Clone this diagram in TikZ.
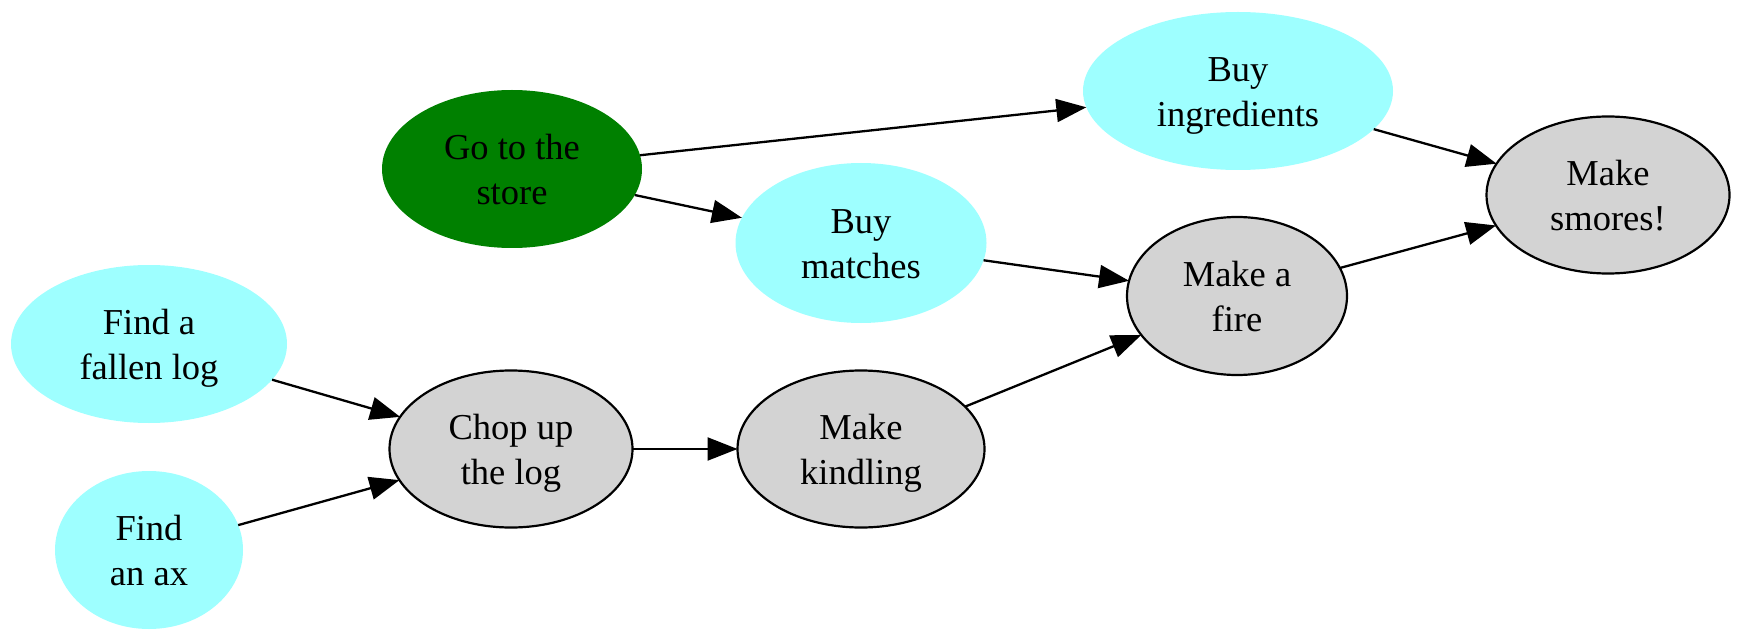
\documentclass[tikz,border=0pt]{standalone}
\usepackage{fontspec}
\setmainfont{Liberation Serif}
\usetikzlibrary{shapes.geometric,arrows.meta}
\definecolor{cyanfill}{RGB}{158,255,255}
\definecolor{grayfill}{RGB}{211,211,211}
\definecolor{greenfill}{RGB}{0,128,0}
\newcommand{\twolines}[2]{\raisebox{-4pt}[\height][\depth]{\begin{tabular}{@{}c@{}}#1\\#2\end{tabular}}}
\begin{document}
\begin{tikzpicture}[x=1pt,y=-1pt,
  base/.style={ellipse,inner sep=0pt,outer sep=0pt,align=center,
    font=\fontsize{36.5}{45}\selectfont},
  cyannode/.style={base,fill=cyanfill},
  greennode/.style={base,fill=greenfill},
  graynode/.style={base,fill=grayfill,draw=black,line width=2.2pt},
  edge/.style={line width=2.3pt,-{Triangle[length=30pt,width=23pt]}}
]
\useasboundingbox (0,0) rectangle (1752,644);
\node[greennode,minimum width=260pt,minimum height=158pt] (store) at (512,169) {\twolines{Go to the}{store}};
\node[cyannode,minimum width=310pt,minimum height=158pt] (ingr) at (1238,91) {\twolines{Buy}{ingredients}};
\node[cyannode,minimum width=251pt,minimum height=160pt] (match) at (861,243) {\twolines{Buy}{matches}};
\node[graynode,minimum width=243pt,minimum height=157pt] (smores) at (1608,195) {\twolines{Make}{smores!}};
\node[graynode,minimum width=220pt,minimum height=158pt] (fire) at (1237,296) {\twolines{Make a}{fire}};
\node[cyannode,minimum width=276pt,minimum height=158pt] (log) at (149,344) {\twolines{Find a}{fallen log}};
\node[graynode,minimum width=243pt,minimum height=157pt] (chop) at (511,449) {\twolines{Chop up}{the log}};
\node[graynode,minimum width=247pt,minimum height=157pt] (kind) at (861,449) {\twolines{Make}{kindling}};
\node[cyannode,minimum width=188pt,minimum height=158pt] (ax) at (149,550) {\twolines{Find}{an ax}};
\draw[edge] (store) -- (ingr);
\draw[edge] (store) -- (match);
\draw[edge] (ingr) -- (smores);
\draw[edge] (match) -- (fire);
\draw[edge] (fire) -- (smores);
\draw[edge] (log) -- (chop);
\draw[edge] (ax) -- (chop);
\draw[edge] (chop) -- (kind);
\draw[edge] (kind) -- (fire);
\end{tikzpicture}
\end{document}
